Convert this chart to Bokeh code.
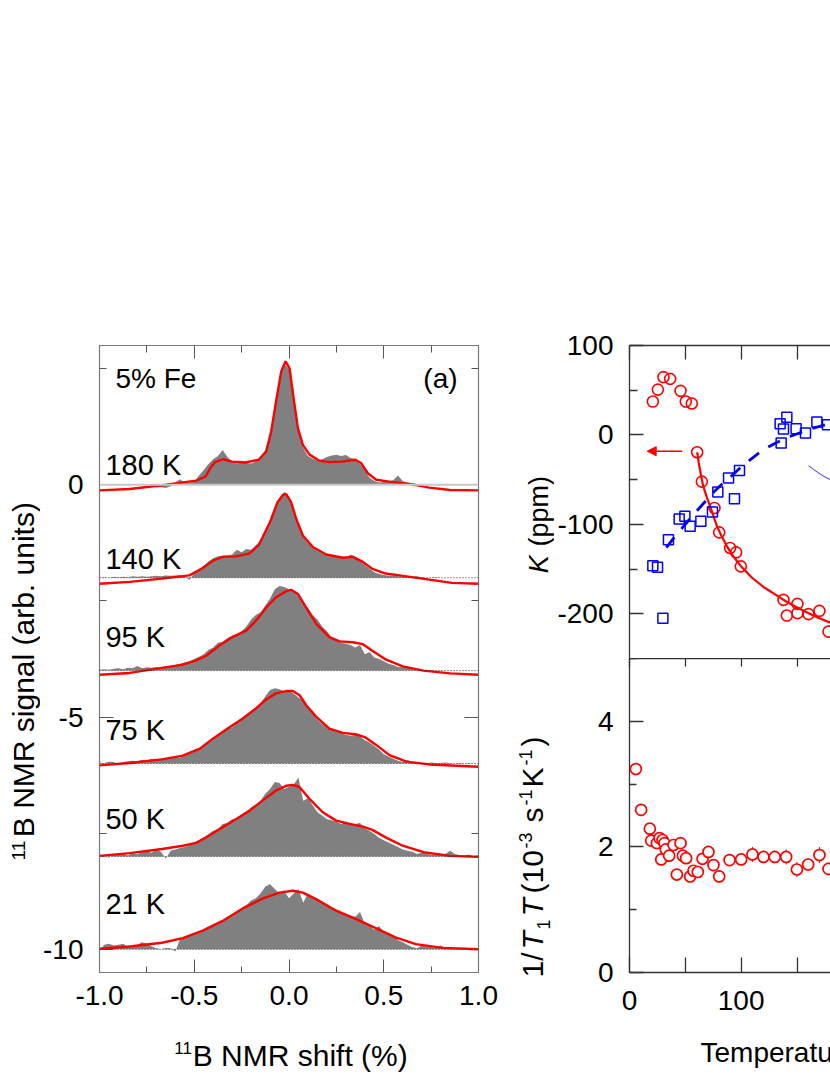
import math
from bokeh.plotting import figure
from bokeh.models import Range1d, FixedTicker, LinearAxis, Label, Arrow, NormalHead, Span
from bokeh.layouts import row, column
from bokeh.embed import file_html
from bokeh.resources import INLINE

FONT = "Liberation Sans"

# ---------------- data: panel (a) spectra ----------------
shift_grid = [-1.0, -0.975, -0.95, -0.925, -0.9, -0.875, -0.85, -0.825, -0.8, -0.775,
              -0.75, -0.725, -0.7, -0.675, -0.65, -0.625, -0.6, -0.575, -0.55, -0.525,
              -0.5, -0.475, -0.45, -0.425, -0.4, -0.375, -0.35, -0.325, -0.3, -0.275,
              -0.25, -0.225, -0.2, -0.175, -0.15, -0.125, -0.1, -0.075, -0.05, -0.025,
              0.0, 0.025, 0.05, 0.075, 0.1, 0.125, 0.15, 0.175, 0.2, 0.225,
              0.25, 0.275, 0.3, 0.325, 0.35, 0.375, 0.4, 0.425, 0.45, 0.475,
              0.5, 0.525, 0.55, 0.575, 0.6, 0.625, 0.65, 0.675, 0.7, 0.725,
              0.75, 0.775, 0.8, 0.825, 0.85, 0.875, 0.9, 0.925, 0.95, 0.975, 1.0]

spec_180 = [0.0, 0.0, 0.01, 0.0, 0.01, 0.0, 0.02, 0.01, 0.02, 0.01,
            0.02, -0.02, -0.06, -0.05, -0.07, -0.03, 0.05, 0.12, 0.04, 0.05,
            0.06, 0.2, 0.32, 0.45, 0.55, 0.62, 0.75, 0.6, 0.5, 0.46,
            0.5, 0.47, 0.46, 0.5, 0.58, 0.75, 1.1, 1.7, 2.3, 2.6,
            2.5, 1.8, 1.15, 0.8, 0.62, 0.56, 0.52, 0.55, 0.6, 0.63,
            0.65, 0.62, 0.64, 0.58, 0.55, 0.45, 0.32, 0.15, 0.08, 0.05,
            0.06, 0.08, 0.1, 0.2, 0.08, 0.05, 0.04, 0.02, 0.01, 0.02,
            0.0, 0.01, 0.0, 0.0, 0.0, 0.0, 0.0, 0.0, 0.0, 0.0, 0.0]
spec_140 = [0.0, 0.01, 0.0, 0.02, 0.01, 0.02, 0.01, 0.03, 0.02, 0.03,
            0.02, 0.03, 0.04, 0.03, 0.05, 0.04, 0.05, 0.06, 0.03, -0.05,
            0.1, 0.18, 0.25, 0.35, 0.42, 0.46, 0.47, 0.48, 0.5, 0.6,
            0.55, 0.62, 0.6, 0.7, 0.8, 0.95, 1.2, 1.45, 1.7, 1.85,
            1.75, 1.45, 1.1, 0.88, 0.75, 0.65, 0.58, 0.52, 0.48, 0.46,
            0.45, 0.44, 0.43, 0.5, 0.45, 0.35, 0.28, 0.2, 0.12, 0.08,
            0.06, 0.04, 0.05, 0.03, 0.02, 0.03, 0.02, 0.03, 0.01, 0.0,
            0.0, 0.01, 0.0, 0.0, 0.0, 0.0, 0.0, 0.0, 0.0, 0.0, 0.0]
spec_95 = [0.02, 0.03, 0.02, 0.04, 0.05, 0.03, 0.06, 0.05, 0.1, 0.05,
           0.07, 0.06, 0.08, 0.06, 0.1, 0.09, 0.12, 0.15, 0.18, 0.2,
           0.25, 0.3, 0.35, 0.45, 0.5, 0.6, 0.62, 0.7, 0.75, 0.78,
           0.85, 0.95, 1.1, 1.2, 1.25, 1.4, 1.55, 1.75, 1.82, 1.8,
           1.75, 1.72, 1.6, 1.45, 1.35, 1.2, 1.1, 0.95, 0.85, 0.72,
           0.65, 0.6, 0.58, 0.55, 0.5, 0.55, 0.35, 0.4, 0.28, 0.25,
           0.2, 0.15, 0.12, 0.08, 0.07, 0.1, 0.04, 0.02, 0.0, -0.03,
           0.01, 0.0, 0.01, 0.0, 0.01, 0.0, 0.0, 0.01, 0.0, 0.0, 0.0]
spec_75 = [0.02, 0.01, 0.04, 0.03, -0.03, 0.03, 0.05, 0.06, 0.05, 0.08,
           0.07, 0.1, 0.09, 0.1, 0.12, 0.12, 0.15, 0.12, 0.2, 0.22,
           0.25, 0.3, 0.38, 0.45, 0.55, 0.6, 0.7, 0.75, 0.78, 0.9,
           0.95, 1.05, 1.1, 1.2, 1.3, 1.45, 1.58, 1.62, 1.6, 1.55,
           1.58, 1.5, 1.42, 1.35, 1.2, 1.08, 0.95, 0.85, 0.78, 0.72,
           0.7, 0.65, 0.62, 0.6, 0.62, 0.58, 0.5, 0.45, 0.38, 0.3,
           0.2, 0.15, 0.1, 0.06, 0.03, 0.08, 0.02, -0.02, 0.01, 0.0,
           0.02, 0.01, 0.01, 0.02, 0.01, 0.0, 0.01, 0.0, 0.01, 0.0, 0.0]
spec_50 = [0.0, 0.02, -0.03, 0.05, 0.03, 0.06, 0.02, 0.08, 0.04, 0.1,
           0.12, 0.08, 0.15, 0.1, -0.05, 0.12, 0.15, 0.18, 0.2, 0.24,
           0.3, 0.35, 0.4, 0.48, 0.55, 0.58, 0.7, 0.72, 0.8, 0.82,
           0.9, 0.95, 1.05, 1.1, 1.2, 1.35, 1.45, 1.6, 1.58, 1.45,
           1.5, 1.55, 1.7, 1.2, 1.25, 1.1, 0.95, 0.88, 0.8, 0.78,
           0.75, 0.7, 0.75, 0.68, 0.7, 0.72, 0.6, 0.55, 0.48, 0.4,
           0.35, 0.3, 0.25, 0.2, 0.15, 0.12, 0.1, 0.05, 0.08, 0.06,
           0.03, 0.04, 0.02, 0.05, 0.12, 0.05, 0.03, 0.02, 0.04, 0.01, 0.03]
spec_21 = [-0.05, 0.1, 0.12, 0.08, 0.1, 0.12, 0.05, 0.07, 0.1, 0.15,
           0.12, 0.06, 0.02, 0.0, 0.03, 0.02, -0.05, 0.22, 0.25, 0.3,
           0.33, 0.36, 0.42, 0.45, 0.5, 0.55, 0.6, 0.66, 0.75, 0.82,
           0.88, 0.95, 1.05, 1.1, 1.2, 1.35, 1.4, 1.3, 1.2, 1.25,
           1.1, 1.2, 1.3, 1.0, 1.2, 1.1, 1.05, 1.0, 0.95, 0.88,
           0.85, 0.8, 0.75, 0.72, 0.7, 0.8, 0.55, 0.5, 0.42, 0.5,
           0.38, 0.35, 0.3, 0.2, 0.15, 0.1, 0.05, 0.02, 0.08, 0.06,
           0.05, 0.03, 0.08, 0.04, 0.02, 0.02, 0.01, 0.0, 0.01, 0.0, 0.0]

fit_180_x = [-1.0, -0.84, -0.67, -0.49, -0.44, -0.415, -0.39, -0.35, -0.30, -0.23, -0.16, -0.12, -0.094,
             -0.068, -0.041, -0.018, 0.003, 0.024, 0.047, 0.073, 0.108, 0.16, 0.21, 0.28, 0.35,
             0.38, 0.416, 0.46, 0.53, 0.65, 0.74, 0.85, 1.0]
fit_180 = [-0.12, -0.09, -0.01, 0.09, 0.18, 0.36, 0.49, 0.55, 0.50, 0.48, 0.54, 0.72, 1.15,
           1.80, 2.44, 2.66, 2.51, 1.87, 1.22, 0.86, 0.65, 0.52, 0.49, 0.50, 0.54,
           0.47, 0.25, 0.11, 0.07, 0.01, -0.06, -0.11, -0.12]
fit_140_x = [-1.0, -0.84, -0.67, -0.525, -0.455, -0.40, -0.35, -0.28, -0.21, -0.16, -0.10, -0.06,
             -0.03, -0.015, 0.011, 0.038, 0.073, 0.126, 0.196, 0.284, 0.337, 0.39, 0.44, 0.51,
             0.62, 0.74, 0.86, 1.0]
fit_140 = [-0.13, -0.09, -0.02, 0.05, 0.21, 0.37, 0.45, 0.46, 0.52, 0.70, 1.20, 1.63,
           1.79, 1.80, 1.63, 1.27, 0.91, 0.66, 0.50, 0.43, 0.45, 0.34, 0.19, 0.09,
           0.03, -0.04, -0.11, -0.13]
fit_95_x = [-1.0, -0.84, -0.67, -0.56, -0.49, -0.437, -0.367, -0.30, -0.226, -0.173, -0.12, -0.068,
            -0.015, 0.011, 0.047, 0.09, 0.143, 0.213, 0.266, 0.337, 0.39, 0.44, 0.51, 0.60,
            0.71, 0.85, 1.0]
fit_95 = [-0.09, -0.05, 0.06, 0.13, 0.22, 0.32, 0.54, 0.72, 0.86, 1.08, 1.36, 1.58,
          1.71, 1.74, 1.65, 1.36, 1.01, 0.72, 0.63, 0.61, 0.57, 0.43, 0.24, 0.09,
          0.0, -0.06, -0.09]
fit_75_x = [-1.0, -0.84, -0.67, -0.56, -0.47, -0.40, -0.31, -0.244, -0.173, -0.12, -0.068, -0.015,
            0.02, 0.056, 0.09, 0.143, 0.213, 0.284, 0.35, 0.40, 0.46, 0.53, 0.62, 0.74, 1.0]
fit_75 = [-0.04, 0.01, 0.09, 0.17, 0.32, 0.54, 0.79, 0.97, 1.19, 1.38, 1.51, 1.56,
          1.56, 1.47, 1.26, 1.01, 0.75, 0.66, 0.63, 0.57, 0.40, 0.18, 0.04, -0.02, -0.07]
fit_50_x = [-1.0, -0.84, -0.67, -0.56, -0.49, -0.42, -0.35, -0.28, -0.21, -0.14, -0.068, -0.015,
            0.02, 0.056, 0.108, 0.178, 0.249, 0.32, 0.39, 0.44, 0.51, 0.60, 0.71, 0.85, 1.0]
fit_50 = [0.01, 0.07, 0.16, 0.23, 0.29, 0.45, 0.63, 0.80, 0.98, 1.20, 1.42, 1.52,
          1.54, 1.49, 1.24, 0.95, 0.77, 0.70, 0.64, 0.57, 0.41, 0.23, 0.09, 0.01, -0.01]
fit_21_x = [-1.0, -0.84, -0.67, -0.56, -0.455, -0.35, -0.244, -0.14, -0.05, 0.02, 0.073, 0.143,
            0.249, 0.354, 0.46, 0.565, 0.67, 0.81, 1.0]
fit_21 = [0.01, 0.06, 0.14, 0.24, 0.40, 0.61, 0.88, 1.09, 1.22, 1.26, 1.22, 1.08,
          0.83, 0.65, 0.45, 0.25, 0.11, 0.03, 0.0]

spec_labels = ["180 K", "140 K", "95 K", "75 K", "50 K", "21 K"]
spec_offsets = [0, -2, -4, -6, -8, -10]
spectra = [spec_180, spec_140, spec_95, spec_75, spec_50, spec_21]
fits_x = [fit_180_x, fit_140_x, fit_95_x, fit_75_x, fit_50_x, fit_21_x]
fits = [fit_180, fit_140, fit_95, fit_75, fit_50, fit_21]

a_xticks = [-1.0, -0.5, 0.0, 0.5, 1.0]
a_xminor = [-0.75, -0.25, 0.25, 0.75]
a_xlabels = ["-1.0", "-0.5", "0.0", "0.5", "1.0"]
a_yticks = [0, -5, -10]
a_yminor = [2.5, -2.5, -7.5]
a_ylabels = ["0", "-5", "-10"]

# ---------------- data: K(T) ----------------
k_T_red = [20.9, 25.4, 30.4, 36.4, 45.7, 50.4, 55.8, 60.6, 64.8, 76.1, 80.3, 90.1, 95.5, 99.7,
           137.9, 140.9, 150.4, 150.4, 160.3, 170.1, 178.2]
k_red = [37.3, 50.7, 64.6, 62.7, 49.3, 37.3, 35.1, -19.4, -52.2, -81.7, -109, -126.5, -131.3, -147,
         -184.4, -202, -188.9, -199.3, -200.4, -196.7, -219.9]
k_T_blue = [20.9, 25.1, 29.9, 34.9, 44.5, 49.6, 54.3, 63.9, 74.3, 79.1, 88.7, 94.0, 98.5,
            135.8, 134.9, 140.9, 137.9, 149.2, 157.6, 167.8, 177.3]
k_blue = [-146.3, -148.1, -204.9, -117.2, -94, -91, -102.2, -96.6, -86.2, -63.8, -48.1, -71.3, -39.9,
          -9, 12.4, 19.7, 6.7, 7, 2.2, 14.5, 11.5]
kfit_red_T = [60.6, 62, 64, 66, 69, 72, 75, 78, 82, 87, 93, 100, 110, 120, 130, 140, 150, 160, 170, 180]
kfit_red = [-19.4, -31, -45, -57, -69, -79, -90, -101, -112, -124, -136, -147, -160, -170, -178,
            -186, -193, -199, -205, -210]
kfit_blue_T = [33, 41, 50, 56, 66, 73, 82, 93, 99, 110, 119, 131, 141, 154, 163, 180]
kfit_blue = [-126, -113, -100, -91, -77, -67, -56, -44, -37, -26, -17, -9, -3, 3, 7, 13]
karc_T = [160.3, 165, 170.7, 175, 179.7]
karc = [-34.4, -38.8, -43.7, -47, -50]
k_yticks = [-200, -100, 0, 100]
k_yminor = [-150, -50, 50]
k_ylabels = ["-200", "-100", "0", "100"]

# ---------------- data: 1/T1T ----------------
t1_T = [5.7, 10.4, 18.2, 19.4, 24.5, 26.9, 29.6, 31.3, 28.4, 32.5,
        35.5, 39.4, 42.4, 45.7, 47.8, 50.7, 54.3, 57.3, 61.2, 65.4,
        70.7, 75.2, 80.3, 89.6, 100.0, 110.1, 120.0, 130.1, 140.3, 149.9,
        160.0, 170.1, 178.2]
t1_V = [3.24, 2.59, 2.29, 2.10, 2.06, 2.14, 2.11, 2.06, 1.80, 1.96,
        1.86, 2.03, 1.56, 2.06, 1.86, 1.82, 1.53, 1.62, 1.60, 1.81,
        1.92, 1.71, 1.53, 1.79, 1.80, 1.88, 1.84, 1.84, 1.84, 1.64,
        1.72, 1.87, 1.65]
t1_err = [0.05, 0.05, 0.05, 0.04, 0.04, 0.04, 0.04, 0.04, 0.04, 0.04,
          0.04, 0.04, 0.04, 0.05, 0.05, 0.05, 0.05, 0.05, 0.05, 0.06,
          0.06, 0.06, 0.06, 0.08, 0.08, 0.12, 0.10, 0.10, 0.12, 0.12,
          0.10, 0.13, 0.10]
t_yticks = [0, 2, 4]
t_yminor = [1, 3, 5]
t_ylabels = ["0", "2", "4"]
T_xticks = [0, 100]
T_xminor = [50, 150]
T_xlabels = ["0", "100"]

# ---------------- page geometry (pixels) ----------------
PAGE_H = 1075
A_L, A_R, A_T, A_B = 98, 478, 345, 972
R_L, R_R = 629, 830
K_T, K_B = 345, 658
T_T, T_B = 658, 972
YLAB_W = 40            # strip holding the rotated title of panel (a)
A_FIG_X0 = YLAB_W
A_FIG_W = 499 - YLAB_W
A_FIG_H = 1030
RLAB_X0 = 499          # strip holding the rotated titles of the right panels
RLAB_W = 55
R_FIG_X0 = RLAB_X0 + RLAB_W
R_FIG_W = R_R - R_FIG_X0
BOT_Y0 = 1030
A_X = (-1.0, 1.0); A_Y = (-10.5, 3.0)
R_X = (0.0, 180.0); K_Y = (-250.0, 100.0); T_Y = (0.0, 5.0)
MID = 0.35   # distance (in em) from the text middle to its baseline


def a_xy(px, py):
    return (A_X[0] + (px - A_L) * (A_X[1] - A_X[0]) / (A_R - A_L),
            A_Y[1] - (py - A_T) * (A_Y[1] - A_Y[0]) / (A_B - A_T))


def r_x(px):
    return R_X[0] + (px - R_L) * (R_X[1] - R_X[0]) / (R_R - R_L)


def k_xy(px, py):
    return (r_x(px), K_Y[1] - (py - K_T) * (K_Y[1] - K_Y[0]) / (K_B - K_T))


def add_axis(fig, side, major, minor, labels, tin, minin, color, lw, size="28px", standoff=14):
    ax = LinearAxis(ticker=FixedTicker(ticks=major, minor_ticks=minor))
    ax.axis_line_color = color
    ax.axis_line_width = lw
    ax.major_tick_line_color = color
    ax.minor_tick_line_color = color
    ax.major_tick_line_width = lw
    ax.minor_tick_line_width = lw
    ax.major_tick_in = tin
    ax.major_tick_out = 0
    ax.minor_tick_in = minin
    ax.minor_tick_out = 0
    ax.major_label_standoff = standoff
    if labels is not None:
        ax.major_label_overrides = {float(t): l for t, l in zip(major, labels)}
    ax.major_label_text_font = FONT
    ax.major_label_text_font_size = size
    ax.major_label_text_color = "black"
    fig.add_layout(ax, side)
    return ax


def add_mirror(fig, side, positions, tin, color, lw):
    # tick-only mirror axis: only unlabeled ticks
    ax = LinearAxis(ticker=FixedTicker(ticks=[], minor_ticks=positions))
    ax.axis_line_color = color
    ax.axis_line_width = lw
    ax.minor_tick_line_color = color
    ax.minor_tick_line_width = lw
    ax.minor_tick_in = tin
    ax.minor_tick_out = 0
    ax.major_tick_in = 0
    ax.major_tick_out = 0
    ax.major_label_standoff = 0
    fig.add_layout(ax, side)
    return ax


def add_text(fig, conv, px, py, text, size_px, italic=False, rotated=False, align="left"):
    """(px, py): page position of the start (or end) of the text baseline."""
    if rotated:
        x, y = conv(px - MID * size_px, py)
        angle = math.pi / 2
    else:
        x, y = conv(px, py - MID * size_px)
        angle = 0.0
    fig.add_layout(Label(x=x, y=y, text=text, x_units="data", y_units="data",
                         text_font=FONT, text_font_size="%dpx" % size_px,
                         text_font_style="italic" if italic else "normal",
                         angle=angle, text_align=align, text_baseline="middle",
                         text_color="black"))


def base_fig(w, h, xr, yr, bl, br, bt, bb):
    f = figure(width=w, height=h, x_range=Range1d(*xr), y_range=Range1d(*yr),
               output_backend="svg", toolbar_location=None,
               x_axis_location=None, y_axis_location=None,
               min_border_left=bl, min_border_right=br, min_border_top=bt, min_border_bottom=bb)
    f.xgrid.visible = False
    f.ygrid.visible = False
    f.background_fill_color = "white"
    f.border_fill_color = "white"
    f.outline_line_color = None
    return f


# ---------------- panel (a) ----------------
pa = base_fig(A_FIG_W, A_FIG_H, A_X, A_Y, A_L - A_FIG_X0, 499 - A_R, A_T, A_FIG_H - A_B)
pa.outline_line_color = "#7a7a7a"
pa.outline_line_width = 1.2
TC = "#555555"
add_axis(pa, "below", a_xticks, a_xminor, a_xlabels, 13, 6, TC, 1, standoff=13)
add_axis(pa, "left", a_yticks, a_yminor, a_ylabels, 14, 7, TC, 1, standoff=16)
add_mirror(pa, "above", a_xticks, 13, TC, 1)
add_mirror(pa, "above", a_xminor, 7, TC, 1)
add_mirror(pa, "right", a_yticks, 14, TC, 1)
add_mirror(pa, "right", a_yminor, 7, TC, 1)
for ax in pa.axis:
    ax.axis_line_color = "#7a7a7a"

label_base_py = [475, 569, 646.7, 740, 828.3, 913.3]
for i, (off, g, fx, fy) in enumerate(zip(spec_offsets, spectra, fits_x, fits)):
    pa.varea(x=shift_grid, y1=[off] * len(shift_grid), y2=[off + v for v in g],
             fill_color="#808080", fill_alpha=1.0)
    if i == 0:
        pa.add_layout(Span(location=off, dimension="width", line_color="#c8c8c8", line_width=2))
    else:
        pa.add_layout(Span(location=off, dimension="width", line_color="#333333",
                           line_width=1, line_dash="1 2"))
    pa.line(fx, [off + v for v in fy], line_color="#ff0000", line_width=2.4)
    add_text(pa, a_xy, 104, label_base_py[i], spec_labels[i], 29)

add_text(pa, a_xy, 114, 388, "5% Fe", 28)
add_text(pa, a_xy, 457, 388, "(a)", 28, align="right")

# rotated title of panel (a): its own strip, data units = page pixels
ylab = base_fig(YLAB_W, PAGE_H, (0, YLAB_W), (0, PAGE_H), 0, 0, 0, 0)
yconv = lambda px, py: (px, PAGE_H - py)
add_text(ylab, yconv, 33.5, 836.7, "B NMR signal (arb. units)", 30, rotated=True)
add_text(ylab, yconv, 24.5, 860, "11", 19, rotated=True)

# bottom title strip of panel (a); shares the frame columns of panel (a)
xlab = base_fig(A_FIG_W, PAGE_H - BOT_Y0, A_X, (0, PAGE_H - BOT_Y0), A_L - A_FIG_X0, 499 - A_R, 0, 0)
xconv = lambda px, py: (a_xy(px, 0)[0], PAGE_H - py)
add_text(xlab, xconv, 191.5, 1065, "B NMR shift (%)", 30)
add_text(xlab, xconv, 173, 1053, "11", 17)

# ---------------- panel K ----------------
pk = base_fig(R_FIG_W, K_B, R_X, K_Y, R_L - R_FIG_X0, 0, K_T, 0)
RC = "#333333"
add_axis(pk, "left", k_yticks, k_yminor, k_ylabels, 14, 8, RC, 1.3, standoff=16)
add_mirror(pk, "above", T_xticks + T_xminor, 14, RC, 1.3)

pk.line(kfit_red_T, kfit_red, line_color="#ff0000", line_width=2.2)
pk.line(kfit_blue_T, kfit_blue, line_color="#0000ee", line_width=2.8, line_dash="13 11")
pk.line(karc_T, karc, line_color="#3030ff", line_width=1)
pk.scatter(k_T_red, k_red, marker="circle", size=11, line_color="#ff0000", fill_color=None, line_width=1.6)
pk.scatter(k_T_blue, k_blue, marker="square", size=10, line_color="#0000ff", fill_color=None, line_width=1.5)
a0 = k_xy(681.7, 450.7)
a1 = k_xy(646.7, 450.7)
pk.add_layout(Arrow(x_start=a0[0], y_start=a0[1], x_end=a1[0], y_end=a1[1],
                    line_color="#ff0000", line_width=1.4,
                    end=NormalHead(size=9, fill_color="#ff0000", line_color="#ff0000", line_width=1)))

# ---------------- panel 1/T1T ----------------
pt = base_fig(R_FIG_W, BOT_Y0 - T_T, R_X, T_Y, R_L - R_FIG_X0, 0, 0, BOT_Y0 - T_B)
add_axis(pt, "left", t_yticks, t_yminor, t_ylabels, 14, 7, RC, 1.3, standoff=16)
add_axis(pt, "below", T_xticks, T_xminor, T_xlabels, 15, 15, RC, 1.3, standoff=18)
add_mirror(pt, "above", T_xticks + T_xminor, 8, RC, 1.3)

pt.segment(x0=t1_T, y0=[v - e for v, e in zip(t1_V, t1_err)],
           x1=t1_T, y1=[v + e for v, e in zip(t1_V, t1_err)], line_color="#ff0000", line_width=1)
pt.scatter(t1_T, t1_V, marker="circle", size=11, line_color="#ff0000", fill_color="white", line_width=1.7)

# rotated titles of the right panels: their own strip, data units = page pixels
rlab = base_fig(RLAB_W, PAGE_H, (0, RLAB_W), (0, PAGE_H), 0, 0, 0, 0)
rconv = lambda px, py: (px - RLAB_X0, PAGE_H - py)
add_text(rlab, rconv, 547.5, 572.7, "K", 27, italic=True, rotated=True)
add_text(rlab, rconv, 547.5, 546, "(ppm)", 27, rotated=True)
LBX = 542.7
parts = [
    (977, "1/", 30, False, 0),
    (949, "T", 30, True, 0),
    (929, "1", 18, False, 7),
    (916, "T", 30, True, 0),
    (893, "(10", 30, False, 0),
    (848, "-3", 18, False, -11),
    (822, "s", 30, False, 0),
    (805, "-1", 18, False, -11),
    (787, "K", 30, False, 0),
    (765, "-1", 18, False, -11),
    (746, ")", 30, False, 0),
]
for py, txt, sz, it, dx in parts:
    add_text(rlab, rconv, LBX + dx, py, txt, sz, italic=it, rotated=True)

# bottom title strip of the right panels; shares their frame columns
tlab = base_fig(R_FIG_W, PAGE_H - BOT_Y0, R_X, (0, PAGE_H - BOT_Y0), R_L - R_FIG_X0, 0, 0, 0)
tconv = lambda px, py: (r_x(px), PAGE_H - py)
add_text(tlab, tconv, 700, 1062, "Temperature (K)", 28)

layout = row(ylab, column(pa, xlab), rlab, column(pk, pt, tlab))
open("out.html", "w").write(file_html(layout, INLINE))
